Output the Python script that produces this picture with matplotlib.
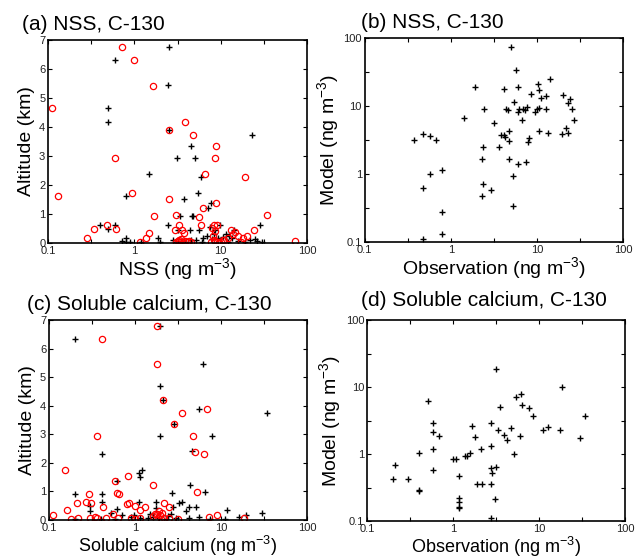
import matplotlib
matplotlib.use("Agg")
import matplotlib.pyplot as plt
from matplotlib.ticker import FixedLocator, NullFormatter

plt.rcParams['font.family'] = ['Liberation Sans', 'DejaVu Sans']
plt.rcParams['mathtext.default'] = 'regular'

# (a) NSS altitude profile: black + = observation, red o = model
nss_obs_x = [2.52, 0.60, 2.42, 0.50, 0.50, 2.52, 23, 4.54, 3.09, 5.0, 1.49, 5.98, 5.47, 0.80,
             3.80, 7.8, 7.2, 4.6, 4.8, 3.35, 0.40, 0.60, 0.50, 2.43, 4.37, 5.66, 9.87, 14.1,
             28.5, 6.2, 1.89, 0.80, 0.72, 0.80, 3.2, 7.5, 8.3, 8.0, 9.2, 10.5, 12.5, 13.5,
             16, 19, 22, 25, 26, 30, 6.0, 5.2, 4.5, 3.6, 3.0, 2.8, 4.0, 7.0, 8.5, 11.5, 12,
             1.2, 0.9, 2.0]
nss_obs_alt = [6.76, 6.31, 5.44, 4.67, 4.18, 3.88, 3.74, 3.33, 2.93, 2.93, 2.39, 2.28, 1.73, 1.61,
               1.53, 1.37, 1.21, 0.94, 0.94, 0.92, 0.62, 0.61, 0.48, 0.62, 0.46, 0.46, 0.62, 0.46,
               0.61, 0.16, 0.16, 0.16, 0.06, 0.05, 0.45, 0.55, 0.30, 0.15, 0.18, 0.22, 0.25, 0.16,
               0.08, 0.05, 0.10, 0.15, 0.08, 0.03, 0.05, 0.10, 0.12, 0.07, 0.03, 0.10, 0.02, 0.25,
               0.45, 0.32, 0.02, 0.02, 0.03, 0.04]
nss_mod_x = [0.72, 1.0, 1.66, 0.11, 3.90, 2.52, 4.83, 8.77, 8.55, 0.60, 6.65, 19.0, 0.93, 0.129,
             2.52, 8.85, 6.31, 5.68, 1.69, 3.04, 34, 0.48, 0.62, 0.34, 0.28, 1.16, 1.38, 1.49,
             2.95, 3.33, 3.6, 3.75, 5.9, 7.9, 8.3, 9.0, 8.5, 8.1, 8.3, 9.0, 10.5, 12, 13, 14,
             14.5, 16, 17, 18, 20, 24, 73, 3.0, 3.2, 3.4, 3.5, 3.7, 3.9, 4.1, 4.3, 4.5, 3.3,
             7.8, 8.6, 9.5, 10, 11]
nss_mod_alt = [6.76, 6.31, 5.43, 4.67, 4.18, 3.88, 3.74, 3.33, 2.93, 2.92, 2.38, 2.28, 1.73, 1.61,
               1.53, 1.37, 1.19, 0.90, 0.92, 0.95, 0.96, 0.62, 0.48, 0.47, 0.16, 0.03, 0.16, 0.33,
               0.46, 0.61, 0.46, 0.33, 0.61, 0.53, 0.61, 0.61, 0.40, 0.25, 0.12, 0.05, 0.10, 0.18,
               0.46, 0.30, 0.38, 0.25, 0.05, 0.18, 0.25, 0.45, 0.06, 0.05, 0.08, 0.05, 0.15, 0.03,
               0.06, 0.04, 0.07, 0.05, 0.12, 0.05, 0.08, 0.05, 0.03, 0.10]

# (b) NSS model vs observation
nss_scat_obs = [4.97, 5.78, 6.0, 1.89, 4.15, 10.2, 14.1, 10.7, 11.2, 12.9, 20, 24.4, 22.9, 25.8,
                26.8, 5.4, 8.5, 2.41, 4.41, 4.6, 6.0, 6.2, 6.9, 7.2, 7.6, 10, 10.7, 12.9, 9.4,
                6.7, 3.17, 1.43, 3.86, 4.1, 4.3, 4.7, 4.7, 8.2, 7.8, 10.5, 13.5, 19.6, 22, 22.7,
                3.6, 2.35, 2.3, 4.7, 6.0, 7.5, 5.25, 2.35, 2.95, 2.3, 5.25, 0.374, 0.475, 0.58,
                0.67, 0.58, 0.80, 0.475, 0.80, 0.80, 0.475]
nss_scat_mod = [73.8, 33.5, 18.8, 18.8, 17.8, 21, 25, 17.4, 13.1, 14.0, 14.7, 12.8, 11.1, 9.0,
                6.3, 11.5, 15, 9.1, 9.1, 8.6, 8.2, 9.0, 9.1, 8.7, 9.6, 9.0, 9.2, 9.0, 8.3,
                6.3, 5.6, 6.6, 3.8, 3.7, 3.5, 3.1, 4.3, 3.4, 3.0, 4.3, 4.0, 3.9, 4.75, 4.0,
                2.5, 2.5, 1.66, 1.66, 1.4, 1.48, 0.92, 0.72, 0.59, 0.47, 0.335, 3.2, 3.87, 3.6,
                3.2, 1.0, 1.13, 0.62, 0.28, 0.13, 0.11]

# (c) soluble calcium altitude profile
ca_obs_x = [1.95, 0.203, 6.25, 1.95, 2.13, 5.56, 34.2, 2.86, 1.95, 7.94, 4.57, 0.41, 1.22, 1.12,
            1.13, 0.61, 4.37, 0.203, 0.41, 2.72, 6.53, 0.41, 1.11, 1.74, 0.30, 0.30, 0.61, 0.52,
            0.70, 0.98, 1.74, 2.8, 3.24, 3.5, 3.97, 4.2, 5.1, 11.7, 30, 19.5, 0.20, 0.40, 1.15,
            1.4, 1.6, 1.9, 2.4, 2.6, 3.0, 4.3, 5.5, 7.5, 11, 16, 1.5, 2.3, 0.9, 0.58]
ca_obs_alt = [6.79, 6.35, 5.47, 4.69, 4.19, 3.90, 3.76, 3.35, 2.94, 2.94, 2.40, 2.32, 1.75, 1.63,
              1.52, 1.37, 1.24, 0.92, 0.92, 0.96, 0.98, 0.64, 0.64, 0.64, 0.49, 0.32, 0.37, 0.26,
              0.18, 0.16, 0.43, 0.46, 0.61, 0.63, 0.32, 0.47, 0.47, 0.35, 0.26, 0.18, 0.02, 0.04,
              0.06, 0.06, 0.10, 0.06, 0.15, 0.20, 0.08, 0.06, 0.10, 0.03, 0.04, 0.12, 0.20, 0.05,
              0.12, 0.05]
ca_mod_x = [1.78, 0.41, 1.78, 2.13, 6.95, 3.52, 2.86, 0.363, 4.69, 4.99, 6.35, 0.152, 0.58, 0.83,
            1.63, 0.61, 0.65, 0.29, 5.22, 0.21, 0.27, 0.31, 0.16, 0.11, 0.42, 0.8, 0.85, 1.0,
            1.14, 1.3, 2.2, 2.5, 1.9, 2.05, 1.95, 1.8, 2.0, 2.2, 2.5, 3.2, 0.18, 0.22, 0.30,
            0.34, 0.36, 0.46, 0.63, 0.9, 1.0, 1.15, 1.6, 7.3, 9.0, 18.7, 1.7, 0.55]
ca_mod_alt = [6.79, 6.35, 5.47, 4.19, 3.90, 3.76, 3.35, 2.93, 2.94, 2.39, 2.30, 1.74, 1.37, 1.53,
              1.23, 0.96, 0.90, 0.92, 0.98, 0.61, 0.63, 0.58, 0.35, 0.18, 0.46, 0.55, 0.61, 0.49,
              0.35, 0.45, 0.61, 0.45, 0.30, 0.25, 0.18, 0.22, 0.05, 0.06, 0.07, 0.05, 0.05, 0.08,
              0.07, 0.10, 0.07, 0.06, 0.08, 0.07, 0.05, 0.08, 0.15, 0.10, 0.17, 0.06, 0.20, 0.20]

# (d) soluble calcium model vs observation
ca_scat_obs = [3.13, 18.8, 0.51, 5.46, 6.25, 3.49, 6.35, 7.67, 8.55, 34, 1.68, 2.79, 3.34, 4.77,
               3.92, 4.29, 6.09, 11.2, 12.8, 17.5, 29.9, 5.08, 0.59, 0.59, 0.69, 0.59, 0.59,
               0.21, 0.20, 0.30, 0.40, 0.40, 0.40, 1.0, 1.08, 1.37, 1.46, 1.6, 2.1, 1.8, 1.19,
               1.19, 1.19, 1.19, 1.19, 1.9, 2.2, 2.75, 3.2, 2.85, 2.8, 3.1, 2.75, 2.75]
ca_scat_mod = [18.5, 10.0, 6.2, 7.2, 7.8, 5.1, 5.4, 4.85, 3.65, 3.65, 2.59, 2.9, 2.31, 2.45,
               1.95, 1.64, 1.84, 2.31, 2.5, 2.31, 1.74, 1.0, 2.87, 2.11, 1.88, 1.19, 0.57,
               0.68, 0.42, 0.43, 1.04, 0.29, 0.28, 0.83, 0.84, 0.92, 0.93, 1.05, 1.2, 1.8, 0.47,
               0.22, 0.19, 0.16, 0.155, 0.36, 0.36, 0.62, 0.64, 0.52, 0.36, 0.21, 0.11, 1.3]

log_ticks = [0.1, 1, 10, 100]
log_labels = ['0.1', '1', '10', '100']
half_ticks = [0.316, 3.16, 31.6]

fig = plt.figure(figsize=(6.37, 5.58), dpi=100)


def style_axes(ax, logy):
    # matlab-like box with inward ticks on all sides
    ax.set_xscale('log')
    ax.set_xlim(0.1, 100)
    ax.xaxis.set_major_locator(FixedLocator(log_ticks))
    ax.set_xticklabels(log_labels)
    ax.xaxis.set_minor_locator(FixedLocator(half_ticks))
    ax.xaxis.set_minor_formatter(NullFormatter())
    if logy:
        ax.set_yscale('log')
        ax.set_ylim(0.1, 100)
        ax.yaxis.set_major_locator(FixedLocator(log_ticks))
        ax.set_yticklabels(log_labels)
        ax.yaxis.set_minor_locator(FixedLocator(half_ticks))
        ax.yaxis.set_minor_formatter(NullFormatter())
    else:
        ax.set_ylim(0, 7)
        ax.set_yticks(range(8))
        ax.yaxis.set_minor_locator(FixedLocator([]))
    ax.tick_params(which='both', direction='in', top=True, right=True, length=3, width=0.8,
                   labelsize=8, pad=2, labelcolor='#222222')
    for s in ax.spines.values():
        s.set_linewidth(1.2)


def profile(ax, ox, oy, mx, my, xlabel, lsize):
    ax.plot(ox, oy, '+', color='black', ms=5, mew=1.0)
    ax.plot(mx, my, 'o', mfc='none', mec='red', ms=4.5, mew=0.9)
    style_axes(ax, False)
    ax.set_ylabel('Altitude (km)', fontsize=14, labelpad=3)
    ax.set_xlabel(xlabel, fontsize=lsize, labelpad=0.5)


def scatter(ax, ox, my, lsize):
    ax.plot(ox, my, '+', color='black', ms=5, mew=1.0)
    style_axes(ax, True)
    ax.set_ylabel('Model (ng m$^{-3}$)', fontsize=14, labelpad=2)
    ax.set_xlabel('Observation (ng m$^{-3}$)', fontsize=lsize, labelpad=0.5)


ax_a = fig.add_axes([0.0754, 0.5645, 0.4066, 0.3638])
profile(ax_a, nss_obs_x, nss_obs_alt, nss_mod_x, nss_mod_alt, 'NSS (ng m$^{-3}$)', 14)

ax_b = fig.add_axes([0.5725, 0.5663, 0.4055, 0.3656])
scatter(ax_b, nss_scat_obs, nss_scat_mod, 14)

ax_c = fig.add_axes([0.0769, 0.0681, 0.405, 0.3584])
profile(ax_c, ca_obs_x, ca_obs_alt, ca_mod_x, ca_mod_alt, 'Soluble calcium (ng m$^{-3}$)', 13)

ax_d = fig.add_axes([0.576, 0.0663, 0.405, 0.360])
scatter(ax_d, ca_scat_obs, ca_scat_mod, 13)

# panel titles
fig.text(22 / 637, 1 - 30 / 558, '(a) NSS, C-130', fontsize=15, va='baseline')
fig.text(361 / 637, 1 - 28 / 558, '(b) NSS, C-130', fontsize=15, va='baseline')
fig.text(27 / 637, 1 - 310 / 558, '(c) Soluble calcium, C-130', fontsize=15, va='baseline')
fig.text(361 / 637, 1 - 306 / 558, '(d) Soluble calcium, C-130', fontsize=15, va='baseline')

fig.savefig('out.png', dpi=100)
